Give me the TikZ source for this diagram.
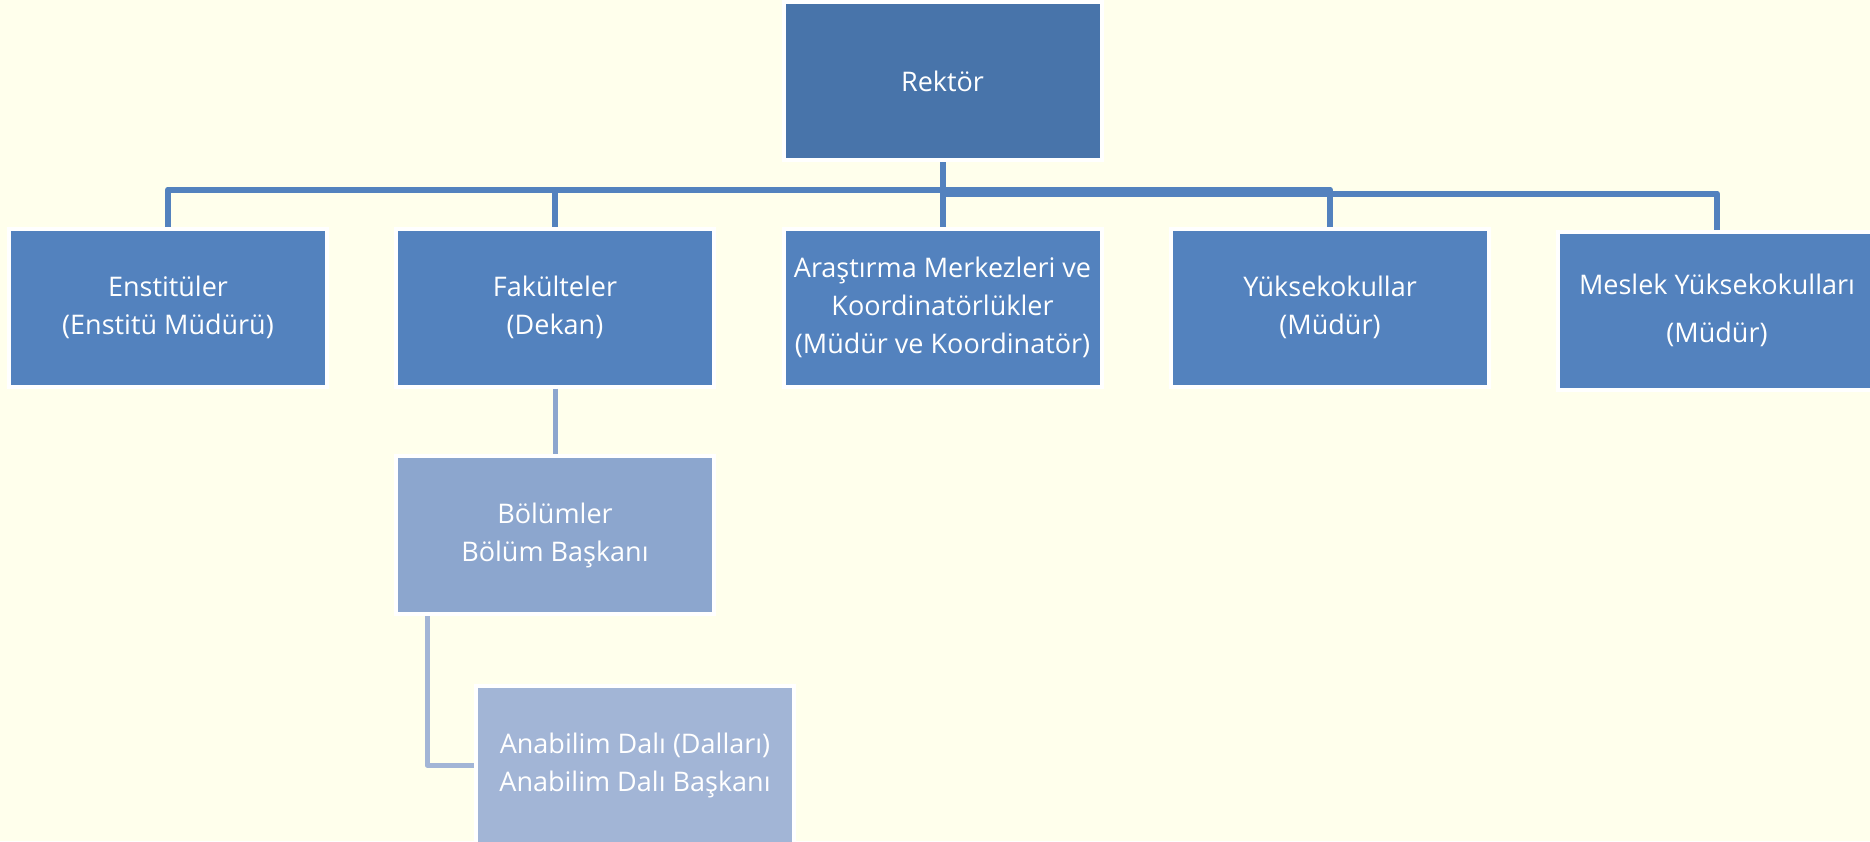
\documentclass[tikz,border=0pt]{standalone}
\usepackage{fontspec}
\setmainfont{Open Sans}
\definecolor{paper}{RGB}{255,255,236}
\definecolor{topblue}{RGB}{72,116,170}
\definecolor{midblue}{RGB}{83,130,190}
\definecolor{lowblue}{RGB}{140,166,206}
\definecolor{lastblue}{RGB}{162,181,214}
\begin{document}
\begin{tikzpicture}[x=1pt,y=-1pt,
  box/.style={draw=white,line width=4pt,minimum width=318pt,minimum height=158pt,
    inner sep=0pt,text=white,align=center,font=\fontsize{27}{38}\selectfont},
  conn/.style={line width=6pt,midblue,line join=round},
  thin conn/.style={line width=5pt}]
 \fill[paper] (0,0) rectangle (1870,841);
 \useasboundingbox (0,0) rectangle (1870,841);
 % boxes
 \node[box,fill=topblue] (rektor) at (942.5,81) {Rektör};
 \node[box,fill=midblue] (enst) at (168,307.5) {Enstitüler\\(Enstitü Müdürü)};
 \node[box,fill=midblue] (fak) at (555,307.5) {Fakülteler\\(Dekan)};
 \node[box,fill=midblue] (aras) at (942.5,307.5) {Araştırma Merkezleri ve\\Koordinatörlükler\\(Müdür ve Koordinatör)};
 \node[box,fill=midblue] (yuk) at (1330,307.5) {Yüksekokullar\\(Müdür)};
 \node[box,fill=midblue] (meslek) at (1717,310.5) {Meslek Yüksekokulları\\[10pt](Müdür)};
 \node[box,fill=lowblue] (bol) at (555,535) {Bölümler\\Bölüm Başkanı};
 \node[box,fill=lastblue] (anab) at (635,765) {Anabilim Dalı (Dalları)\\Anabilim Dalı Başkanı};
 % connectors
 \draw[conn] (rektor.south) -- (aras.north);
 \draw[conn] (enst.north) -- ++(0,-37) -| (yuk.north);
 \draw[conn] (fak.north) -- ++(0,-37);
 \draw[conn] (aras.north) ++(0,-33) -| (meslek.north);
 \draw[thin conn,lowblue] (fak.south) -- (bol.north);
 \draw[thin conn,lastblue,line join=round] ([xshift=-128pt]bol.south) |- (anab.west);
\end{tikzpicture}
\end{document}
